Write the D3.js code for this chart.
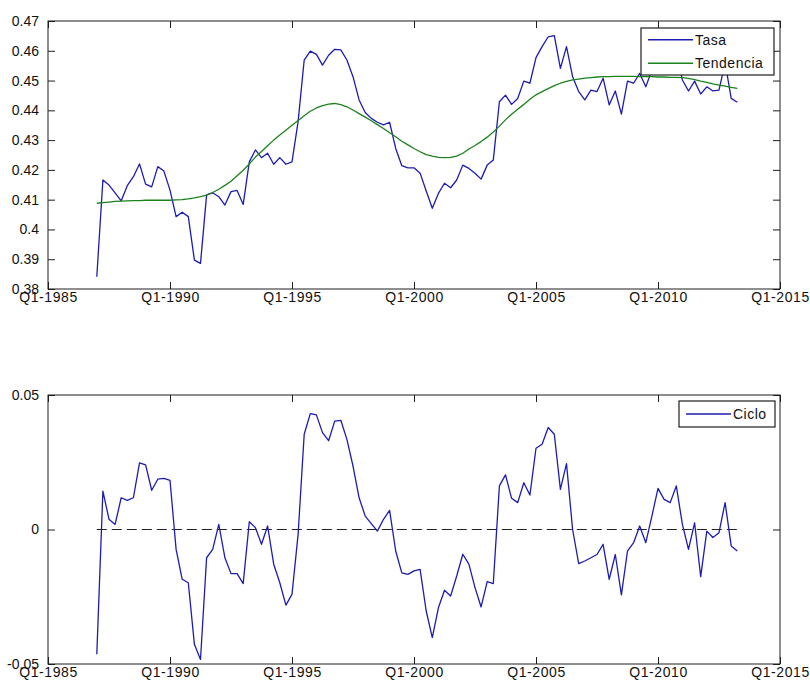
<!DOCTYPE html>
<html>
<head>
<meta charset="utf-8">
<script src="https://cdn.jsdelivr.net/npm/d3@7"></script>
<style>
  html, body { margin: 0; padding: 0; background: #ffffff; }
  svg { display: block; }
  text { font-family: "Liberation Sans", Arial, Helvetica, sans-serif; fill: #111; }
</style>
</head>
<body>
<script>
// ---------------- DATA ----------------
const startYear = 1987;            // first observation: Q1-1987 (quarterly)
const xTickYears = [1985, 1990, 1995, 2000, 2005, 2010, 2015];
const xTickLabels = ["Q1-1985", "Q1-1990", "Q1-1995", "Q1-2000", "Q1-2005", "Q1-2010", "Q1-2015"];
const yTicksTop = [0.38, 0.39, 0.40, 0.41, 0.42, 0.43, 0.44, 0.45, 0.46, 0.47];
const yTicksBottom = [-0.05, 0, 0.05];

const tasa = [
  0.3841, 0.4166, 0.4149, 0.4123, 0.4096, 0.4147, 0.4177, 0.4220, 0.4152, 0.4143,
  0.4211, 0.4196, 0.4132, 0.4043, 0.4058, 0.4043, 0.3897, 0.3886, 0.4116, 0.4123,
  0.4110, 0.4082, 0.4127, 0.4131, 0.4084, 0.4227, 0.4267, 0.4241, 0.4256, 0.4219,
  0.4241, 0.4219, 0.4227, 0.4362, 0.4569, 0.4599, 0.4588, 0.4552, 0.4585, 0.4605,
  0.4603, 0.4569, 0.4513, 0.4435, 0.4393, 0.4373, 0.4360, 0.4351, 0.4360, 0.4272,
  0.4214, 0.4207, 0.4207, 0.4189, 0.4129, 0.4071, 0.4121, 0.4155, 0.4140, 0.4166,
  0.4216, 0.4205, 0.4189, 0.4169, 0.4216, 0.4233, 0.4429, 0.4451, 0.4420, 0.4440,
  0.4498, 0.4491, 0.4577, 0.4614, 0.4647, 0.4651, 0.4541, 0.4614, 0.4513, 0.4463,
  0.4435, 0.4468, 0.4463, 0.4508, 0.4418, 0.4465, 0.4387, 0.4498, 0.4491, 0.4524,
  0.4479, 0.4535, 0.4587, 0.4566, 0.4560, 0.4590, 0.4502, 0.4465, 0.4498, 0.4455,
  0.4479, 0.4465, 0.4468, 0.4560, 0.4440, 0.4427
];

const tendencia = [
  0.4088, 0.4090, 0.4092, 0.4094, 0.4095, 0.4096, 0.4097, 0.4097, 0.4098, 0.4098,
  0.4098, 0.4098, 0.4098, 0.4099, 0.4100, 0.4103, 0.4106, 0.4110, 0.4115, 0.4124,
  0.4135, 0.4148, 0.4162, 0.4180, 0.4199, 0.4220, 0.4243, 0.4262, 0.4281, 0.4300,
  0.4317, 0.4333, 0.4350, 0.4366, 0.4382, 0.4397, 0.4408, 0.4416, 0.4421, 0.4423,
  0.4419, 0.4412, 0.4401, 0.4389, 0.4377, 0.4365, 0.4352, 0.4339, 0.4325, 0.4311,
  0.4296, 0.4284, 0.4272, 0.4261, 0.4251, 0.4246, 0.4242, 0.4241, 0.4242, 0.4246,
  0.4256, 0.4270, 0.4282, 0.4295, 0.4310, 0.4327, 0.4347, 0.4368, 0.4387, 0.4404,
  0.4420, 0.4437, 0.4452, 0.4463, 0.4473, 0.4483, 0.4491, 0.4497, 0.4502, 0.4505,
  0.4508, 0.4510, 0.4512, 0.4513, 0.4513, 0.4514, 0.4514, 0.4514, 0.4514, 0.4513,
  0.4513, 0.4513, 0.4512, 0.4512, 0.4511, 0.4511, 0.4510, 0.4507, 0.4503, 0.4498,
  0.4494, 0.4489, 0.4485, 0.4481, 0.4477, 0.4474
];

const ciclo = [
  -0.0464, 0.0143, 0.0038, 0.0019, 0.0118, 0.0108, 0.0118, 0.0248, 0.0240, 0.0146,
  0.0187, 0.0190, 0.0183, -0.0074, -0.0185, -0.0198, -0.0427, -0.0483, -0.0105, -0.0074,
  0.0019, -0.0105, -0.0164, -0.0164, -0.0201, 0.0029, 0.0007, -0.0055, 0.0013, -0.0129,
  -0.0198, -0.0281, -0.0241, -0.0018, 0.0354, 0.0431, 0.0426, 0.0360, 0.0330, 0.0403,
  0.0406, 0.0335, 0.0236, 0.0118, 0.0050, 0.0022, -0.0006, 0.0038, 0.0071, -0.0080,
  -0.0161, -0.0167, -0.0154, -0.0148, -0.0303, -0.0402, -0.0291, -0.0226, -0.0247, -0.0173,
  -0.0092, -0.0129, -0.0216, -0.0288, -0.0194, -0.0201, 0.0162, 0.0203, 0.0116, 0.0100,
  0.0174, 0.0128, 0.0302, 0.0317, 0.0379, 0.0354, 0.0149, 0.0245, 0.0000, -0.0127,
  -0.0117, -0.0105, -0.0093, -0.0055, -0.0185, -0.0093, -0.0243, -0.0080, -0.0049, 0.0013,
  -0.0049, 0.0050, 0.0153, 0.0112, 0.0100, 0.0162, 0.0019, -0.0074, 0.0025, -0.0175,
  -0.0006, -0.0030, -0.0012, 0.0100, -0.0061, -0.0080
];

// quarterly time positions (category axis)
const quarters = tasa.map((_, i) => startYear + i / 4);

// ---------------- CHART ----------------
const W = 810, H = 682;
const BLUE = "#1c1cb4", GREEN = "#1b821b", AX = "#1e1e1e";
const FS = 14;

const svg = d3.select("body").append("svg").attr("width", W).attr("height", H);
svg.append("rect").attr("width", W).attr("height", H).attr("fill", "#fff");

const left = 48, right = 780;
const x = d3.scaleLinear().domain([1985, 2015]).range([left, right]);

function panel(top, bottom, yDomain, yTicks) {
  const y = d3.scaleLinear().domain(yDomain).range([bottom, top]);
  const g = svg.append("g");
  const fmt = v => String(+v.toFixed(2));

  // bottom axis with labels
  const ab = g.append("g").attr("transform", `translate(0,${bottom})`)
    .call(d3.axisBottom(x).tickValues(xTickYears)
      .tickFormat((d, i) => xTickLabels[i]).tickSizeInner(-7).tickSizeOuter(0).tickPadding(3));
  // top axis ticks
  const at = g.append("g").attr("transform", `translate(0,${top})`)
    .call(d3.axisTop(x).tickValues(xTickYears).tickFormat("").tickSizeInner(-7).tickSizeOuter(0));
  // left axis with labels
  const al = g.append("g").attr("transform", `translate(${left},0)`)
    .call(d3.axisLeft(y).tickValues(yTicks).tickFormat(fmt).tickSizeInner(-7).tickSizeOuter(0).tickPadding(9));
  // right axis ticks
  const ar = g.append("g").attr("transform", `translate(${right},0)`)
    .call(d3.axisRight(y).tickValues(yTicks).tickFormat("").tickSizeInner(-7).tickSizeOuter(0));

  [ab, at, al, ar].forEach(a => {
    a.select(".domain").remove();
    a.selectAll("line").attr("stroke", AX).attr("stroke-width", 1);
    a.selectAll("text").attr("font-size", FS).attr("fill", "#111")
      .attr("font-family", '"Liberation Sans", Arial, sans-serif');
  });
  ab.selectAll("text").attr("letter-spacing", 0.6);

  g.append("rect").attr("x", left).attr("y", top)
    .attr("width", right - left).attr("height", bottom - top)
    .attr("fill", "none").attr("stroke", AX).attr("stroke-width", 1);
  return { g, y };
}

function drawLine(g, y, vals, color, extra) {
  const line = d3.line().x((d, i) => x(quarters[i])).y(d => y(d));
  const p = g.append("path").datum(vals).attr("d", line)
    .attr("fill", "none").attr("stroke", color).attr("stroke-width", 1.3)
    .attr("stroke-linejoin", "round");
  if (extra) extra(p);
  return p;
}

function legend(items, bx, by, bw, bh) {
  const lg = svg.append("g");
  lg.append("rect").attr("x", bx).attr("y", by).attr("width", bw).attr("height", bh)
    .attr("fill", "#fff").attr("stroke", AX).attr("stroke-width", 1.2);
  const rowH = bh / items.length;
  items.forEach((it, i) => {
    const cy = by + rowH * (i + 0.5);
    lg.append("line").attr("x1", bx + 7).attr("x2", bx + 52).attr("y1", cy).attr("y2", cy)
      .attr("stroke", it.color).attr("stroke-width", 1.3);
    lg.append("text").attr("x", bx + 54).attr("y", cy).attr("dy", "0.35em")
      .attr("font-size", FS).attr("letter-spacing", 0.5).text(it.label);
  });
}

// Top panel
const P1 = panel(21, 289, [0.38, 0.47], yTicksTop);
drawLine(P1.g, P1.y, tasa, BLUE);
drawLine(P1.g, P1.y, tendencia, GREEN);
legend([{ label: "Tasa", color: BLUE }, { label: "Tendencia", color: GREEN }], 641, 28, 133, 47);

// Bottom panel
const P2 = panel(395, 664, [-0.05, 0.05], yTicksBottom);
P2.g.append("line")
  .attr("x1", x(quarters[0])).attr("x2", x(quarters[quarters.length - 1]))
  .attr("y1", P2.y(0)).attr("y2", P2.y(0))
  .attr("stroke", "#222").attr("stroke-width", 1.2).attr("stroke-dasharray", "10,5");
drawLine(P2.g, P2.y, ciclo, BLUE);
legend([{ label: "Ciclo", color: BLUE }], 679, 401, 96, 26);
</script>
</body>
</html>
